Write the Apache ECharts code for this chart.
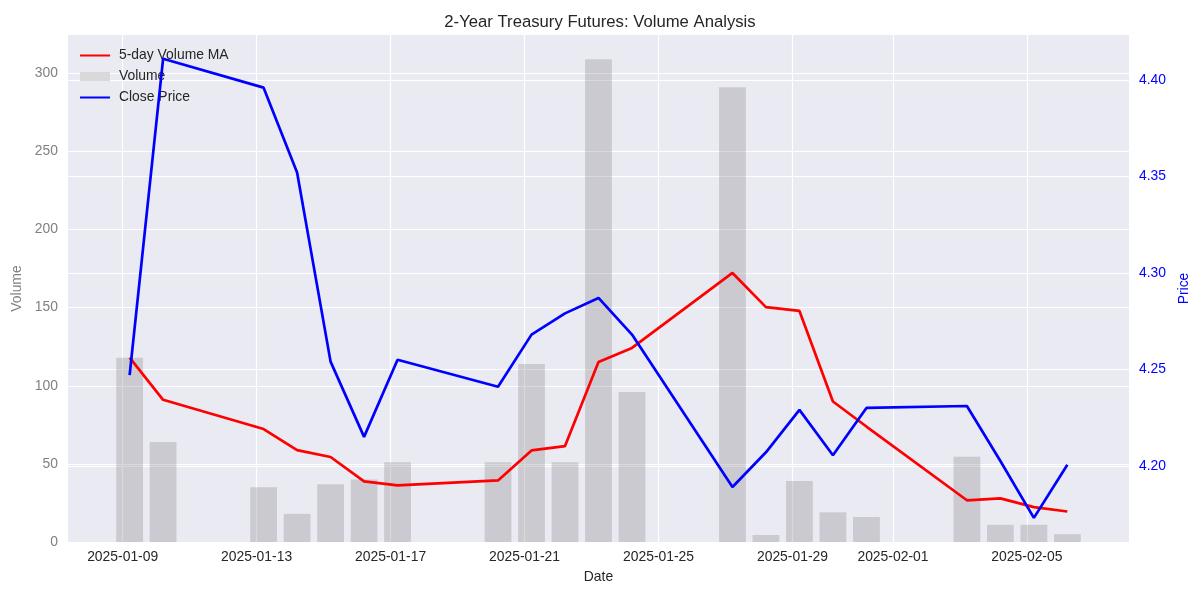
<!DOCTYPE html>
<html>
<head>
<meta charset="utf-8">
<script src="https://cdn.jsdelivr.net/npm/echarts@6/dist/echarts.min.js"></script>
<style>
html,body{margin:0;padding:0;background:#fff;}
#chart{width:1200px;height:600px;}
</style>
</head>
<body>
<div id="chart"></div>
<script>
// ---- data ----
const dates = ['2025-01-09','2025-01-10','2025-01-13','2025-01-14','2025-01-15','2025-01-16','2025-01-17',
  '2025-01-20','2025-01-21','2025-01-22','2025-01-23','2025-01-24','2025-01-27','2025-01-28','2025-01-29',
  '2025-01-30','2025-01-31','2025-02-03','2025-02-04','2025-02-05','2025-02-06'];
const sessionTime = '05:00';
const volume = [118, 64, 35, 18, 37, 40, 51, 51, 114, 51, 309, 96, 291, 4.5, 39, 19, 16, 54.5, 11, 11, 5];
const volumeMA5 = [118, 91, 72.3, 58.8, 54.4, 38.8, 36.2, 39.4, 58.6, 61.4, 115.2, 124.2, 172.2, 150.3, 147.9,
  89.9, 73.9, 26.7, 27.9, 22.3, 19.5];
const closePrice = [4.247, 4.411, 4.396, 4.352, 4.254, 4.215, 4.255, 4.241, 4.268, 4.279, 4.287, 4.268,
  4.189, 4.207, 4.229, 4.2055, 4.230, 4.231, 4.2025, 4.173, 4.2005];
const xTickDates = ['2025-01-09','2025-01-13','2025-01-17','2025-01-21','2025-01-25','2025-01-29','2025-02-01','2025-02-05'];
const volumeTicks = [0, 50, 100, 150, 200, 250, 300];
const priceTicks = [4.20, 4.25, 4.30, 4.35, 4.40];
const xRange = ['2025-01-07 08:50', '2025-02-08 01:10'];
const volumeRange = [0, 324.5];
const priceRange = [4.1605, 4.4233];

// ---- helpers ----
function toTs(s) {
  const [d, t] = s.split(' ');
  const [y, m, dd] = d.split('-').map(Number);
  let h = 0, mi = 0;
  if (t) { [h, mi] = t.split(':').map(Number); }
  return new Date(y, m - 1, dd, h, mi).getTime();
}
function pad(n) { return (n < 10 ? '0' : '') + n; }
function fmtDate(v) {
  const d = new Date(v);
  return d.getFullYear() + '-' + pad(d.getMonth() + 1) + '-' + pad(d.getDate());
}
const xs = dates.map(d => toTs(d + ' ' + sessionTime));
const pairs = arr => arr.map((v, i) => [xs[i], v]);

const FONT = 'Liberation Sans, Arial, sans-serif';
const chart = echarts.init(document.getElementById('chart'), null, { renderer: 'canvas' });

chart.setOption({
  animation: false,
  backgroundColor: '#ffffff',
  textStyle: { fontFamily: FONT },
  title: {
    text: '2-Year Treasury Futures: Volume Analysis',
    left: 'center', top: 9,
    textStyle: { fontFamily: FONT, fontSize: 16.7, fontWeight: 'normal', color: '#262626' }
  },
  legend: {
    left: 74, top: 43.5, orient: 'vertical',
    itemWidth: 30, itemHeight: 9, itemGap: 7,
    textStyle: { fontFamily: FONT, fontSize: 13.9, color: '#262626', lineHeight: 14, padding: [0, 0, 0, 4] },
    data: [
      { name: '5-day Volume MA', itemStyle: { opacity: 0 } },
      { name: 'Volume', icon: 'rect', itemStyle: { color: '#d9d9d9', opacity: 1 } },
      { name: 'Close Price', itemStyle: { opacity: 0 } }
    ]
  },
  grid: {
    left: 68, right: 71, top: 35, bottom: 58,
    show: true, backgroundColor: '#EAEAF2', borderWidth: 0
  },
  xAxis: {
    type: 'value',
    min: toTs(xRange[0]), max: toTs(xRange[1]),
    name: 'Date', nameLocation: 'middle', nameGap: 28,
    nameTextStyle: { fontFamily: FONT, fontSize: 13.9, color: '#262626' },
    axisLine: { show: false },
    axisTick: { show: false, customValues: xTickDates.map(d => toTs(d)) },
    axisLabel: {
      customValues: xTickDates.map(d => toTs(d)),
      formatter: v => fmtDate(v),
      fontFamily: FONT, fontSize: 13.9, color: '#262626', margin: 8,
      hideOverlap: false
    },
    splitLine: { show: true, lineStyle: { color: '#ffffff', width: 1.2 } }
  },
  yAxis: [
    {
      type: 'value', position: 'left',
      min: volumeRange[0], max: volumeRange[1],
      name: 'Volume', nameLocation: 'middle', nameGap: 38,
      nameTextStyle: { fontFamily: FONT, fontSize: 13.9, color: '#808080' },
      axisLine: { show: false }, axisTick: { show: false, customValues: volumeTicks },
      axisLabel: { customValues: volumeTicks, fontFamily: FONT, fontSize: 13.9, color: '#808080', margin: 10 },
      splitLine: { show: true, lineStyle: { color: '#ffffff', width: 1.2 } }
    },
    {
      type: 'value', position: 'right',
      min: priceRange[0], max: priceRange[1],
      name: 'Price', nameLocation: 'middle', nameGap: 34,
      nameTextStyle: { fontFamily: FONT, fontSize: 13.9, color: '#0000ff' },
      axisLine: { show: false }, axisTick: { show: false, customValues: priceTicks },
      axisLabel: { customValues: priceTicks, formatter: v => v.toFixed(2),
        fontFamily: FONT, fontSize: 13.9, color: '#0000ff', margin: 10 },
      splitLine: { show: true, lineStyle: { color: '#ffffff', width: 1.2 } }
    }
  ],
  series: [
    {
      name: 'Volume', type: 'bar', yAxisIndex: 0, z: 2,
      barWidth: '80%',
      itemStyle: { color: '#808080', opacity: 0.3 },
      data: pairs(volume)
    },
    {
      name: '5-day Volume MA', type: 'line', yAxisIndex: 0, z: 3,
      symbol: 'none', lineStyle: { color: '#ff0000', width: 2.7 }, itemStyle: { color: '#ff0000' },
      data: pairs(volumeMA5)
    },
    {
      name: 'Close Price', type: 'line', yAxisIndex: 1, z: 4,
      symbol: 'none', lineStyle: { color: '#0000ff', width: 2.7 }, itemStyle: { color: '#0000ff' },
      data: pairs(closePrice)
    }
  ]
});
</script>
</body>
</html>
